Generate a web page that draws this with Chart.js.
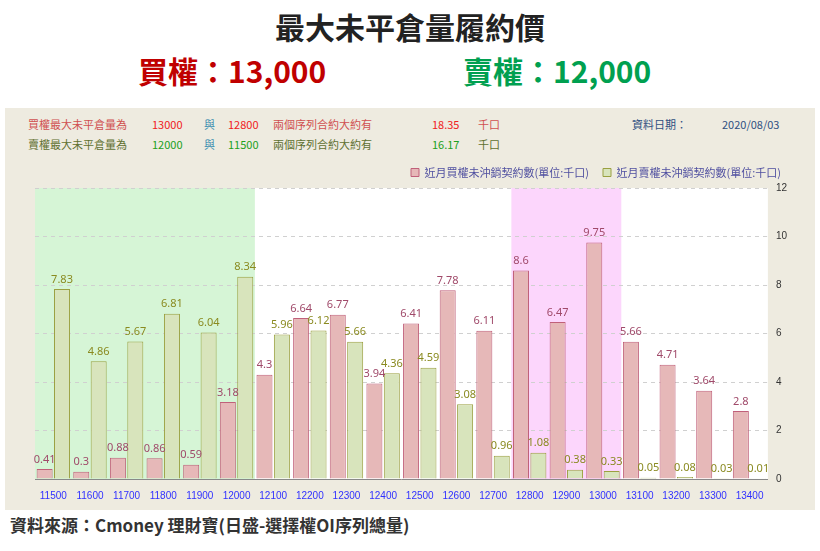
<!DOCTYPE html>
<html><head><meta charset="utf-8">
<script src="https://cdn.jsdelivr.net/npm/chart.js@4"></script>
<style>
body{margin:0;width:820px;height:551px;background:#fff;font-family:"Noto Sans CJK TC","Noto Sans",sans-serif;position:relative;overflow:hidden}
.a{position:absolute;white-space:nowrap}
#panel{position:absolute;left:5px;top:108px;width:810px;height:402px;background:#eeebe0}
.s{font-size:11px}
</style></head><body>
<div class="a" style="left:0;width:820px;text-align:center;top:4px;font-size:30px;font-weight:bold;color:#222">最大未平倉量履約價</div>
<div class="a" style="left:138px;top:48px;font-size:30px;font-weight:bold;color:#c00000">買權：13,000</div>
<div class="a" style="left:463px;top:48px;font-size:30px;font-weight:bold;color:#00a050">賣權：12,000</div>
<div id="panel"></div>
<div class="a s" style="left:28px;top:116px;color:#d05050">買權最大未平倉量為</div>
<div class="a s" style="left:152px;top:116px;color:#f02020">13000</div>
<div class="a s" style="left:204px;top:116px;color:#4090b0">與</div>
<div class="a s" style="left:228px;top:116px;color:#f02020">12800</div>
<div class="a s" style="left:273px;top:116px;color:#d05050">兩個序列合約大約有</div>
<div class="a s" style="left:432px;top:116px;color:#f02020">18.35</div>
<div class="a s" style="left:478px;top:116px;color:#d05050">千口</div>
<div class="a s" style="left:632px;top:116px;color:#305080">資料日期：</div>
<div class="a s" style="left:722px;top:116px;color:#305080">2020/08/03</div>
<div class="a s" style="left:28px;top:136px;color:#607030">賣權最大未平倉量為</div>
<div class="a s" style="left:152px;top:136px;color:#20a020">12000</div>
<div class="a s" style="left:204px;top:136px;color:#4090b0">與</div>
<div class="a s" style="left:228px;top:136px;color:#20a020">11500</div>
<div class="a s" style="left:273px;top:136px;color:#607030">兩個序列合約大約有</div>
<div class="a s" style="left:432px;top:136px;color:#20a020">16.17</div>
<div class="a s" style="left:478px;top:136px;color:#607030">千口</div>
<div class="a" style="left:10px;top:512px;font-size:17px;font-weight:bold;color:#333">資料來源：Cmoney 理財寶(日盛-選擇權OI序列總量)</div>
<div class="a" style="left:5px;top:153px;width:810px;height:352px"><canvas id="c"></canvas></div>
<script>
const categories=["11500","11600","11700","11800","11900","12000","12100","12200","12300","12400","12500","12600","12700","12800","12900","13000","13100","13200","13300","13400"];
const buyValues=[0.41,0.3,0.88,0.86,0.59,3.18,4.3,6.64,6.77,3.94,6.41,7.78,6.11,8.6,6.47,9.75,5.66,4.71,3.64,2.8];
const sellValues=[7.83,4.86,5.67,6.81,6.04,8.34,5.96,6.12,5.66,4.36,4.59,3.08,0.96,1.08,0.38,0.33,0.05,0.08,0.03,0.01];
const yTicks=[0,2,4,6,8,10,12];
const bands=[[0,5,'#d6f5d6'],[13,15,'#fcd6fc']];
const bgPlugin={id:'bg',beforeDraw(ch){const {ctx,chartArea:a,scales:{x}}=ch;ctx.save();ctx.fillStyle='#fff';ctx.fillRect(a.left,a.top,a.right-a.left,a.bottom-a.top);
const w=(x.getPixelForValue(1)-x.getPixelForValue(0))/2;
bands.forEach(b=>{ctx.fillStyle=b[2];const l=x.getPixelForValue(b[0])-w,r=x.getPixelForValue(b[1])+w;ctx.fillRect(l,a.top,r-l,a.bottom-a.top);});ctx.restore();}};
const lblPlugin={id:'lbl',afterDatasetsDraw(ch){const ctx=ch.ctx;ctx.save();ctx.font='11px "Noto Sans",sans-serif';ctx.textAlign='center';ctx.textBaseline='bottom';
ch.data.datasets.forEach((d,i)=>{ctx.fillStyle=i?'#8a8a20':'#a04a6a';ch.getDatasetMeta(i).data.forEach((el,j)=>{ctx.fillText(String(d.data[j]),el.x,el.y-4);});});ctx.restore();}};
new Chart(document.getElementById('c'),{type:'bar',
data:{labels:categories,datasets:[
{label:'近月買權未沖銷契約數(單位:千口)',data:buyValues,backgroundColor:'#e6b8b8',borderColor:'#c0607a',borderWidth:1},
{label:'近月賣權未沖銷契約數(單位:千口)',data:sellValues,backgroundColor:'#d8e4bc',borderColor:'#9aa040',borderWidth:1}]},
options:{responsive:true,maintainAspectRatio:false,animation:false,
layout:{padding:{left:30,right:20,top:0,bottom:0}},
datasets:{bar:{barPercentage:0.92,categoryPercentage:0.95}},
plugins:{legend:{align:'end',labels:{boxWidth:8,boxHeight:8,color:'#5050a0',font:{size:11,family:'"Noto Sans CJK TC"'},padding:14}},tooltip:{enabled:false}},
scales:{x:{grid:{display:false},border:{color:'#888'},ticks:{color:'#3030ff',font:{size:10}}},
y:{position:'right',min:0,max:12,afterBuildTicks(s){s.ticks=yTicks.map(v=>({value:v}));},grid:{color:'#d0d0d0',tickLength:0},border:{display:false,dash:[4,4]},ticks:{color:'#333',font:{size:10},padding:8}}}},
plugins:[bgPlugin,lblPlugin]});
</script></body></html>
